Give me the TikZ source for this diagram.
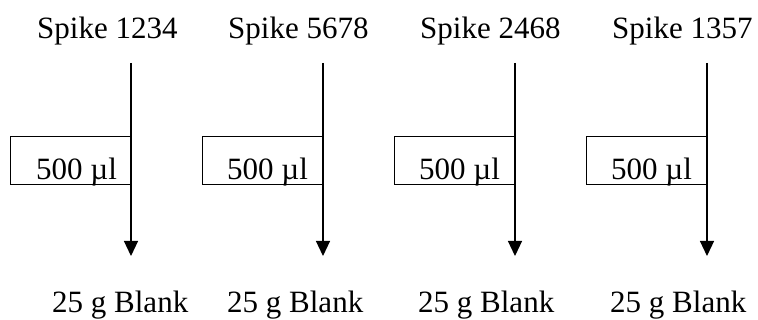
\documentclass[tikz,border=0pt]{standalone}
\usepackage{fontspec}
\setmainfont{Liberation Serif}
\usetikzlibrary{arrows.meta}
\begin{document}
\begin{tikzpicture}[x=1pt,y=-1pt,
  txt/.style={anchor=base west,inner sep=0pt,font=\fontsize{31pt}{37pt}\selectfont},
  volbox/.style={draw,line width=1.2pt,anchor=north east,minimum width=120pt,minimum height=48pt,inner sep=0pt},
  flow/.style={line width=1.2pt,-{Triangle[length=15pt,width=14pt]}}]
\useasboundingbox (0,0) rectangle (758,320);
\foreach \i/\X/\lab/\sx/\bx/\vx in {1/131/1234/37/52/36, 2/323/5678/228/227/227, 3/515/2468/420/418/419, 4/707/1357/612/610/611} {
  \node[txt] (spike\i) at (\sx,39) {Spike \lab};
  \coordinate (top\i) at (\X,63);
  \coordinate (end\i) at (\X,256);
  \node[volbox] (box\i) at (\X,136) {};
  \node[txt] (vol\i) at (\vx,180) {500 µl};
  \node[txt] (blank\i) at (\bx,313) {25 g Blank};
  \draw[flow] (top\i) -- (end\i);
}
\end{tikzpicture}
\end{document}
